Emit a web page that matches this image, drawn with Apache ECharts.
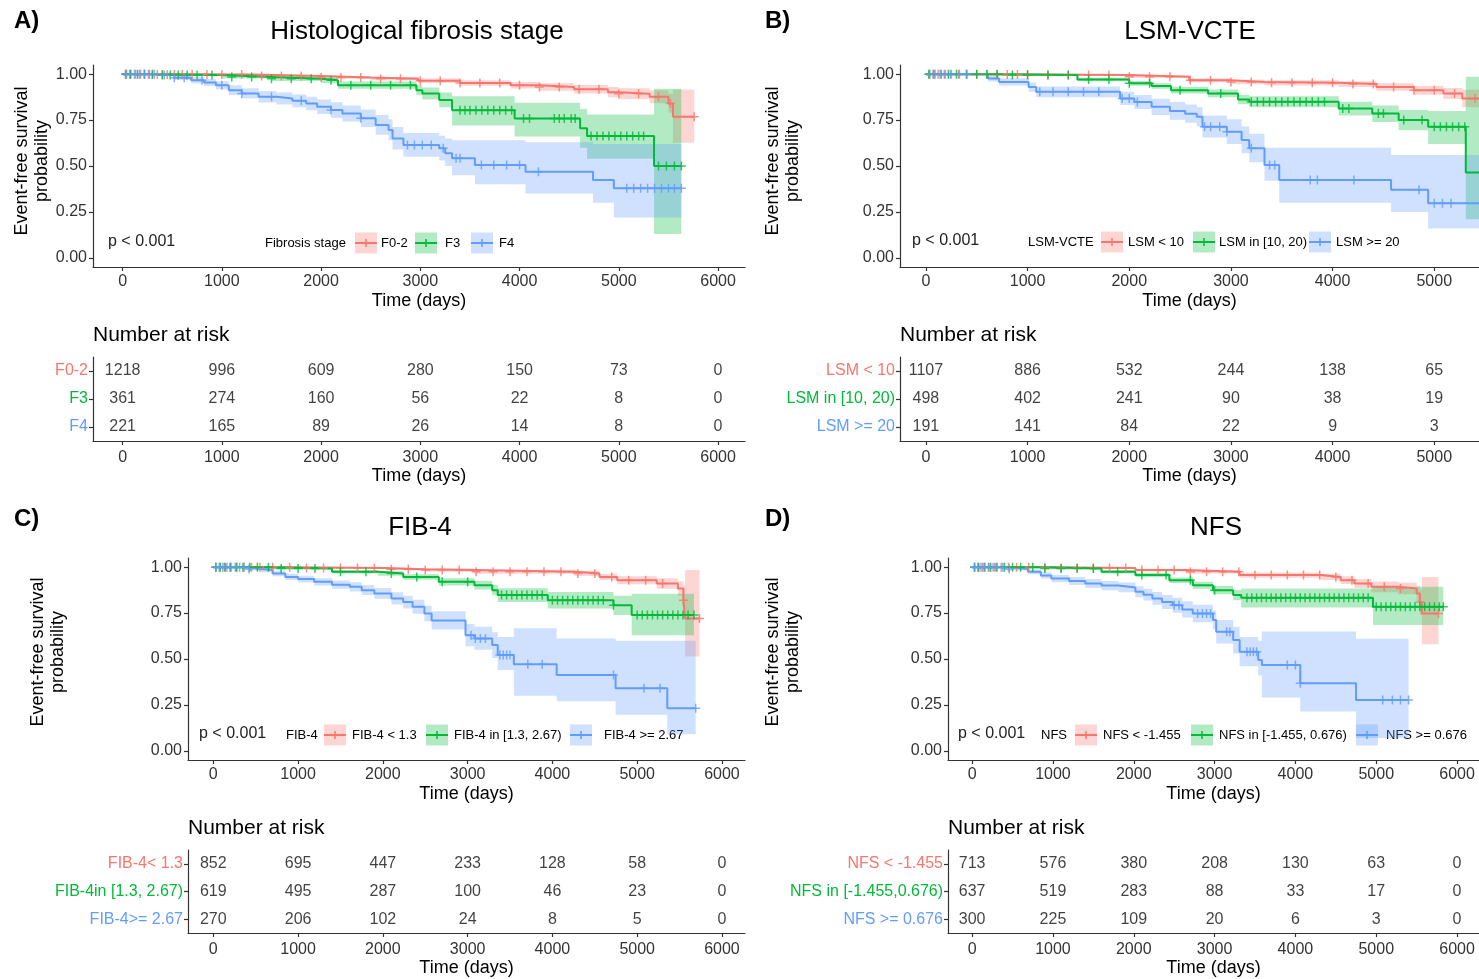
<!DOCTYPE html>
<html>
<head>
<meta charset="utf-8">
<script src="https://cdn.jsdelivr.net/npm/echarts@6/dist/echarts.min.js"></script>
<style>
  html, body { margin: 0; padding: 0; background: #fff; }
  #chart { width: 1479px; height: 979px; }
</style>
</head>
<body>
<div id="chart"></div>
<script>
// ggplot default hues
const COLORS = ['#F8766D', '#00BA38', '#619CFF'];
const FILLS = ['rgba(248,118,109,0.3)', 'rgba(0,186,56,0.3)', 'rgba(97,156,255,0.3)'];
const FONT = '"Liberation Sans", Arial, Helvetica, sans-serif';

const timeTicks = [0, 1000, 2000, 3000, 4000, 5000, 6000];
const timeTicksB = [0, 1000, 2000, 3000, 4000, 5000];
const survTicks = [0, 0.25, 0.5, 0.75, 1];

// ---- A) histological fibrosis stage : rows are [time, surv, lower, upper]
const stageA = ['F0-2', 'F3', 'F4'];
const kmA_F02 = [[0,1,1,1],[300,0.998,0.995,1],[1300,0.99,0.985,0.996],[2000,0.982,0.975,0.99],[2500,0.975,0.965,0.984],[2980,0.964,0.952,0.976],[3400,0.952,0.937,0.967],[3910,0.94,0.922,0.958],[4200,0.93,0.91,0.95],[4550,0.918,0.895,0.941],[4890,0.902,0.875,0.93],[5000,0.893,0.863,0.923],[5310,0.877,0.842,0.912],[5500,0.84,0.79,0.893],[5545,0.768,0.627,0.917],[5760,0.768,0.627,0.917]];
const kmA_F3 = [[0,1,1,1],[370,0.995,0.99,1],[1000,0.985,0.977,0.993],[1500,0.975,0.963,0.986],[2000,0.967,0.952,0.981],[2170,0.94,0.92,0.96],[2960,0.913,0.885,0.94],[3020,0.895,0.862,0.928],[3190,0.86,0.82,0.9],[3320,0.804,0.72,0.88],[3950,0.759,0.66,0.845],[4610,0.705,0.6,0.81],[4680,0.663,0.54,0.78],[5355,0.5,0.13,0.92],[5630,0.5,0.13,0.92]];
const kmA_F4 = [[0,1,1,1],[350,0.995,0.99,1],[520,0.98,0.968,0.992],[690,0.967,0.95,0.984],[820,0.955,0.936,0.974],[940,0.94,0.918,0.962],[1070,0.913,0.887,0.94],[1200,0.895,0.867,0.923],[1370,0.877,0.846,0.908],[1550,0.868,0.835,0.9],[1710,0.855,0.82,0.89],[1850,0.84,0.803,0.877],[1960,0.822,0.783,0.862],[2100,0.805,0.763,0.847],[2215,0.786,0.742,0.83],[2400,0.76,0.712,0.808],[2550,0.723,0.67,0.778],[2680,0.696,0.64,0.754],[2720,0.65,0.59,0.712],[2830,0.614,0.55,0.68],[3190,0.596,0.53,0.665],[3250,0.57,0.5,0.65],[3320,0.542,0.45,0.64],[3550,0.505,0.4,0.64],[4060,0.469,0.35,0.63],[4740,0.424,0.3,0.62],[4950,0.379,0.22,0.62],[5630,0.379,0.22,0.62]];
const censA_F02 = [40,80,130,180,220,260,300,350,400,450,520,600,700,850,1000,1200,1400,1600,1800,2000,2200,2400,2600,2800,3000,3200,3400,3600,3800,4000,4200,4400,4600,4800,5000,5200,5400,5520,5760];
const censA_F3 = [30,80,150,220,300,400,480,560,650,750,900,1100,1300,1500,1700,1900,2100,2300,2500,2700,2900,3400,3450,3500,3560,3620,3680,3740,3800,3860,3920,4040,4100,4350,4400,4450,4520,4560,4720,4780,4840,4900,4960,5020,5080,5140,5200,5250,5400,5480,5560,5630];
const censA_F4 = [30,70,120,170,220,270,320,420,520,620,800,1000,1200,1500,1800,2100,2400,2870,2940,3020,3110,3230,3360,3400,3615,3740,3870,4000,4190,5080,5150,5220,5290,5360,5430,5500,5560,5630];
const riskA_F02 = [1218, 996, 609, 280, 150, 73, 0];
const riskA_F3 = [361, 274, 160, 56, 22, 8, 0];
const riskA_F4 = [221, 165, 89, 26, 14, 8, 0];

// ---- B) LSM-VCTE
const stageB = ['LSM < 10', 'LSM in [10, 20)', 'LSM >= 20'];
const kmB_lo = [[0,1,1,1],[500,0.998,0.995,1],[1120,0.995,0.99,0.999],[2000,0.986,0.979,0.993],[2590,0.967,0.956,0.978],[3000,0.958,0.945,0.97],[3330,0.953,0.939,0.967],[4060,0.946,0.93,0.962],[4430,0.93,0.91,0.95],[4800,0.913,0.888,0.937],[5090,0.895,0.865,0.925],[5275,0.868,0.82,0.915],[5440,0.868,0.82,0.915]];
const kmB_mid = [[0,1,1,1],[750,0.995,0.99,1],[1490,0.971,0.961,0.981],[2000,0.95,0.937,0.963],[2220,0.935,0.92,0.95],[2410,0.913,0.895,0.931],[2775,0.895,0.874,0.916],[3070,0.862,0.836,0.888],[3180,0.85,0.82,0.88],[4060,0.813,0.775,0.85],[4390,0.786,0.74,0.83],[4650,0.75,0.695,0.805],[4940,0.714,0.62,0.8],[5310,0.464,0.21,0.986],[5440,0.464,0.21,0.986]];
const kmB_hi = [[0,1,1,1],[610,0.976,0.96,0.992],[720,0.958,0.938,0.978],[1010,0.93,0.905,0.955],[1085,0.904,0.875,0.933],[1910,0.868,0.832,0.904],[2050,0.848,0.81,0.886],[2220,0.822,0.778,0.866],[2400,0.8,0.752,0.848],[2550,0.785,0.735,0.835],[2665,0.768,0.715,0.82],[2720,0.714,0.655,0.775],[2960,0.687,0.62,0.755],[3105,0.641,0.57,0.715],[3180,0.596,0.52,0.675],[3330,0.505,0.42,0.6],[3475,0.424,0.3,0.6],[4575,0.37,0.25,0.56],[4940,0.297,0.16,0.56],[5440,0.297,0.16,0.56]];
const censB_lo = [30,70,120,180,250,320,400,500,600,700,800,900,1000,1200,1400,1600,1800,2000,2200,2400,2600,2800,3000,3200,3400,3600,3800,4000,4200,4400,4600,4800,5000,5200,5400];
const censB_mid = [30,80,150,220,300,400,500,600,700,850,1000,1200,1400,1600,1800,2000,2200,2500,2900,3200,3260,3320,3380,3440,3500,3560,3620,3680,3740,3800,3860,3920,4100,4160,4450,4500,4700,4880,5000,5060,5120,5180,5240,5300];
const censB_hi = [40,90,140,190,240,330,400,1120,1250,1400,1550,1700,1930,2000,2080,2740,2800,2890,2960,3200,3380,3430,3780,3850,4210,4850,5000,5080,5165];
const riskB_lo = [1107, 886, 532, 244, 138, 65];
const riskB_mid = [498, 402, 241, 90, 38, 19];
const riskB_hi = [191, 141, 84, 22, 9, 3];

// ---- C) FIB-4
const stageC = ['FIB-4< 1.3', 'FIB-4in [1.3, 2.67)', 'FIB-4>= 2.67'];
const legendC = ['FIB-4 < 1.3', 'FIB-4 in [1.3, 2.67)', 'FIB-4 >= 2.67'];
const kmC_lo = [[0,1,1,1],[977,0.996,0.992,1],[2030,0.989,0.982,0.996],[2490,0.984,0.975,0.993],[3080,0.975,0.964,0.986],[4260,0.966,0.952,0.98],[4555,0.947,0.93,0.964],[4765,0.929,0.907,0.951],[5230,0.911,0.882,0.94],[5480,0.884,0.845,0.923],[5545,0.82,0.74,0.9],[5565,0.721,0.513,0.984],[5735,0.721,0.513,0.984]];
const kmC_mid = [[0,1,1,1],[680,0.993,0.987,0.999],[1400,0.975,0.965,0.985],[1945,0.966,0.954,0.978],[2240,0.947,0.932,0.962],[2660,0.92,0.9,0.94],[3080,0.902,0.878,0.926],[3290,0.875,0.847,0.903],[3355,0.848,0.81,0.885],[3945,0.82,0.775,0.865],[4720,0.793,0.74,0.845],[4935,0.739,0.63,0.855],[5670,0.739,0.63,0.855]];
const kmC_hi = [[0,1,1,1],[400,0.99,0.982,0.998],[555,0.984,0.972,0.996],[700,0.965,0.95,0.98],[850,0.947,0.93,0.964],[1000,0.935,0.916,0.954],[1190,0.92,0.9,0.94],[1400,0.905,0.882,0.928],[1610,0.893,0.868,0.918],[1750,0.875,0.848,0.902],[1900,0.857,0.828,0.886],[2100,0.83,0.797,0.863],[2240,0.81,0.775,0.845],[2350,0.785,0.747,0.823],[2490,0.748,0.705,0.79],[2575,0.71,0.66,0.76],[2975,0.63,0.57,0.69],[3080,0.612,0.55,0.675],[3290,0.576,0.505,0.645],[3355,0.522,0.44,0.62],[3545,0.471,0.3,0.667],[4050,0.413,0.27,0.612],[4745,0.341,0.196,0.6],[5355,0.232,0.09,0.6],[5690,0.232,0.09,0.6]];
const censC_lo = [30,80,130,200,280,360,450,550,700,900,1100,1300,1500,1700,1900,2100,2300,2500,2700,2900,3100,3300,3500,3700,3900,4100,4300,4500,4700,4900,5100,5300,5545,5735];
const censC_mid = [30,80,140,200,270,350,430,520,650,800,1000,1200,1500,1800,2100,2400,2700,3000,3400,3460,3520,3580,3640,3700,3760,3820,3880,4000,4060,4120,4180,4240,4300,4360,4420,4480,4540,4600,4720,5000,5060,5120,5180,5240,5300,5360,5420,5480,5540,5600,5670];
const censC_hi = [30,70,110,160,210,260,310,360,420,3040,3090,3150,3210,3380,3420,3460,3500,3710,3880,4720,5080,5270,5690];
const riskC_lo = [852, 695, 447, 233, 128, 58, 0];
const riskC_mid = [619, 495, 287, 100, 46, 23, 0];
const riskC_hi = [270, 206, 102, 24, 8, 5, 0];

// ---- D) NFS
const stageD = ['NFS < -1.455', 'NFS in [-1.455,0.676)', 'NFS >= 0.676'];
const legendD = ['NFS < -1.455', 'NFS in [-1.455, 0.676)', 'NFS >= 0.676'];
const kmD_lo = [[0,1,1,1],[980,0.996,0.992,1],[2020,0.984,0.976,0.992],[2645,0.975,0.965,0.985],[3310,0.957,0.943,0.971],[4310,0.947,0.93,0.964],[4560,0.929,0.908,0.95],[4730,0.911,0.886,0.936],[4940,0.893,0.864,0.922],[5270,0.884,0.852,0.916],[5500,0.857,0.815,0.899],[5540,0.81,0.74,0.88],[5565,0.748,0.58,0.947],[5770,0.748,0.58,0.947]];
const kmD_mid = [[0,1,1,1],[900,0.993,0.988,0.998],[1600,0.975,0.966,0.984],[2020,0.957,0.945,0.969],[2440,0.929,0.914,0.944],[2730,0.902,0.883,0.921],[2980,0.875,0.852,0.898],[3230,0.848,0.82,0.876],[3330,0.833,0.78,0.884],[4960,0.784,0.685,0.893],[5830,0.784,0.685,0.893]];
const kmD_hi = [[0,1,1,1],[450,0.99,0.982,0.998],[690,0.975,0.962,0.988],[850,0.955,0.938,0.972],[980,0.938,0.918,0.958],[1200,0.925,0.903,0.947],[1400,0.911,0.887,0.935],[1600,0.9,0.875,0.925],[1810,0.89,0.863,0.917],[2020,0.866,0.836,0.896],[2120,0.85,0.818,0.882],[2230,0.83,0.795,0.865],[2350,0.81,0.772,0.848],[2480,0.793,0.752,0.834],[2600,0.77,0.726,0.814],[2730,0.748,0.7,0.796],[2980,0.712,0.66,0.764],[3020,0.649,0.585,0.713],[3230,0.603,0.53,0.676],[3310,0.54,0.46,0.62],[3540,0.495,0.41,0.6],[3585,0.467,0.29,0.65],[4060,0.368,0.214,0.65],[4750,0.277,0.07,0.61],[5400,0.277,0.07,0.61]];
const censD_lo = [30,80,130,200,280,360,450,550,700,900,1100,1300,1500,1700,1900,2100,2300,2500,2700,2900,3100,3300,3500,3700,3900,4100,4300,4500,4700,4900,5100,5300,5540,5770];
const censD_mid = [30,80,150,230,300,400,500,600,750,900,1100,1300,1500,1800,2100,2400,2700,3000,3400,3460,3520,3580,3640,3700,3760,3820,3880,3940,4000,4060,4120,4180,4240,4300,4360,4420,4480,4540,4600,4660,4720,4780,4840,4900,5000,5060,5120,5180,5240,5300,5360,5420,5480,5540,5600,5660,5720,5780,5830];
const censD_hi = [30,70,110,160,210,260,310,380,460,2500,2560,2790,2850,2900,2950,3150,3190,3400,3440,3480,3520,3900,4000,4060,5080,5200,5300,5400];
const riskD_lo = [713, 576, 380, 208, 130, 63, 0];
const riskD_mid = [637, 519, 283, 88, 33, 17, 0];
const riskD_hi = [300, 225, 109, 20, 6, 3, 0];

// panel layout (pixels) + which arrays go where
let panels = [
    { tag: 'A)', tagX: 14, tagY: 21, title: 'Histological fibrosis stage', titleX: 417, titleY: 32,
      plotBox: { left: 93, top: 65, width: 652 }, riskBox: { left: 93, top: 357, width: 652, height: 84 },
      xMin: -298.6, xMax: 6271.6, ticks: timeTicks, yTitle: [32, 161],
      rows: stageA, km: [kmA_F02, kmA_F3, kmA_F4], cens: [censA_F02, censA_F3, censA_F4], atRisk: [riskA_F02, riskA_F3, riskA_F4],
      pX: 108, legY: 243, legTitle: [265, 'Fibrosis stage'], legNames: stageA, keyX: [355, 415, 471], textX: [381, 445, 499] },
    { tag: 'B)', tagX: 765, tagY: 21, title: 'LSM-VCTE', titleX: 1190, titleY: 32,
      plotBox: { left: 900, top: 65, width: 580 }, riskBox: { left: 900, top: 357, width: 580, height: 84 },
      xMin: -255, xMax: 5440, ticks: timeTicksB, yTitle: [783, 161],
      rows: stageB, km: [kmB_lo, kmB_mid, kmB_hi], cens: [censB_lo, censB_mid, censB_hi], atRisk: [riskB_lo, riskB_mid, riskB_hi],
      pX: 912, legY: 242, legTitle: [1028, 'LSM-VCTE'], legNames: stageB, keyX: [1101, 1193, 1309], textX: [1128, 1219, 1336] },
    { tag: 'C)', tagX: 14, tagY: 519, title: 'FIB-4', titleX: 420, titleY: 528,
      plotBox: { left: 188, top: 558, width: 557 }, riskBox: { left: 188, top: 850, width: 557, height: 83 },
      xMin: -298.6, xMax: 6271.6, ticks: timeTicks, yTitle: [48, 652],
      rows: stageC, km: [kmC_lo, kmC_mid, kmC_hi], cens: [censC_lo, censC_mid, censC_hi], atRisk: [riskC_lo, riskC_mid, riskC_hi],
      pX: 199, legY: 735, legTitle: [286, 'FIB-4'], legNames: legendC, keyX: [324, 426, 570], textX: [352, 454, 604] },
    { tag: 'D)', tagX: 765, tagY: 519, title: 'NFS', titleX: 1216, titleY: 528,
      plotBox: { left: 948, top: 558, width: 531 }, riskBox: { left: 948, top: 850, width: 531, height: 83 },
      xMin: -298.6, xMax: 6271.6, ticks: timeTicks, yTitle: [783, 652],
      rows: stageD, km: [kmD_lo, kmD_mid, kmD_hi], cens: [censD_lo, censD_mid, censD_hi], atRisk: [riskD_lo, riskD_mid, riskD_hi],
      pX: 958, legY: 735, legTitle: [1041, 'NFS'], legNames: legendD, keyX: [1075, 1191, 1356], textX: [1103, 1219, 1386] }
];

const PLUS = 'path://M-1,-6H1V-1H6V1H1V6H-1V1H-6V-1H-1Z';

// survival at time t
function survAt(rows, t) {
    let s = rows[0][1];
    rows.forEach(r => { if (r[0] <= t) s = r[1]; });
    return s;
}

// confidence band as one stepped polygon, placed with the axis scales
function bandRender(rows, fill) {
    return function (params, api) {
        if (params.dataIndex !== 0) return null;
        let upper = [], lower = [];
        for (let i = 0; i < rows.length; i++) {
            const t0 = rows[i][0];
            const t1 = i < rows.length - 1 ? rows[i + 1][0] : rows[i][0];
            upper.push(api.coord([t0, rows[i][3]]), api.coord([t1, rows[i][3]]));
            lower.push(api.coord([t0, rows[i][2]]), api.coord([t1, rows[i][2]]));
        }
        const pts = upper.concat(lower.reverse());
        return { type: 'polygon', shape: { points: pts }, style: { fill: fill, stroke: null } };
    };
}

const axisLine = { show: true, onZero: false, lineStyle: { color: '#333', width: 1.2 } };
const axisTick = { show: true, length: 4, lineStyle: { color: '#333', width: 1.2 } };

let grids = [], xAxes = [], yAxes = [], series = [], graphics = [];

function txt(x, y, text, size, opt) {
    opt = opt || {};
    return {
        type: 'text', x: x, y: y, rotation: opt.rotation || 0, silent: true,
        style: {
            text: text, fontSize: size, fontFamily: FONT, fill: opt.fill || '#000',
            fontWeight: opt.bold ? 'bold' : 'normal',
            textAlign: opt.align || 'left', align: opt.align || 'left',
            textVerticalAlign: 'middle', verticalAlign: 'middle', lineHeight: opt.lineHeight
        }
    };
}

panels.forEach((p, pi) => {
    const gp = pi * 2, gr = pi * 2 + 1;
    grids.push({ left: p.plotBox.left, top: p.plotBox.top, width: p.plotBox.width, height: 202 });
    grids.push({ left: p.riskBox.left, top: p.riskBox.top, width: p.riskBox.width, height: p.riskBox.height });

    // survival plot axes
    xAxes.push({
        type: 'value', gridIndex: gp, min: p.xMin, max: p.xMax,
        axisLine: axisLine, axisTick: Object.assign({ customValues: p.ticks }, axisTick), splitLine: { show: false },
        axisLabel: { customValues: p.ticks, fontSize: 16, color: '#333', fontFamily: FONT, margin: 7, formatter: v => String(v) },
        name: 'Time (days)', nameLocation: 'middle', nameGap: 25,
        nameTextStyle: { fontSize: 18, color: '#000', fontFamily: FONT }
    });
    yAxes.push({
        type: 'value', gridIndex: gp, min: -0.05, max: 1.05,
        axisLine: axisLine, axisTick: Object.assign({ customValues: survTicks }, axisTick), splitLine: { show: false },
        axisLabel: { customValues: survTicks, fontSize: 16, color: '#333', fontFamily: FONT, margin: 6,
                     formatter: v => v.toFixed(2) }
    });

    // risk table axes
    xAxes.push({
        type: 'value', gridIndex: gr, min: p.xMin, max: p.xMax,
        axisLine: axisLine, axisTick: Object.assign({ customValues: p.ticks }, axisTick), splitLine: { show: false },
        axisLabel: { customValues: p.ticks, fontSize: 16, color: '#333', fontFamily: FONT, margin: 9, formatter: v => String(v) },
        name: 'Time (days)', nameLocation: 'middle', nameGap: 26,
        nameTextStyle: { fontSize: 18, color: '#000', fontFamily: FONT }
    });
    const rich = {};
    COLORS.forEach((c, i) => { rich['c' + i] = { color: c, fontSize: 16, fontFamily: FONT }; });
    yAxes.push({
        type: 'category', gridIndex: gr, data: p.rows, inverse: true,
        axisLine: axisLine, axisTick: Object.assign({ alignWithLabel: true }, axisTick),
        axisLabel: { margin: 5, formatter: (v, i) => '{c' + i + '|' + v + '}', rich: rich }
    });

    // bands, curves, censor marks
    p.km.forEach((rows, k) => {
        series.push({
            type: 'custom', xAxisIndex: gp, yAxisIndex: gp, clip: true, silent: true, z: 1,
            data: rows.map(r => [r[0], r[2], r[3]]), encode: { x: 0, y: [1, 2] },
            renderItem: bandRender(rows, FILLS[k])
        });
    });
    p.km.forEach((rows, k) => {
        series.push({
            type: 'line', xAxisIndex: gp, yAxisIndex: gp, step: 'end', symbol: 'none',
            data: rows.map(r => [r[0], r[1]]), lineStyle: { color: COLORS[k], width: 2 }, z: 3
        });
        series.push({
            type: 'scatter', xAxisIndex: gp, yAxisIndex: gp, symbol: PLUS, symbolSize: 9,
            data: p.cens[k].map(t => [t, survAt(rows, t)]), itemStyle: { color: COLORS[k] }, z: 4
        });
    });

    // number at risk
    let riskData = [];
    p.atRisk.forEach((vals, k) => vals.forEach((n, j) => riskData.push([p.ticks[j], k, n])));
    series.push({
        type: 'scatter', xAxisIndex: gr, yAxisIndex: gr, symbolSize: 1, itemStyle: { color: 'transparent' },
        data: riskData,
        label: { show: true, position: 'inside', formatter: d => d.value[2], fontSize: 16, color: '#111', fontFamily: FONT }
    });

    // texts
    graphics.push(txt(p.tagX, p.tagY, p.tag, 24, { bold: true }));
    graphics.push(txt(p.titleX, p.titleY, p.title, 26, { align: 'center' }));
    graphics.push(txt(p.yTitle[0], p.yTitle[1], 'Event-free survival\nprobability', 18,
                      { align: 'center', rotation: Math.PI / 2, fill: '#000', lineHeight: 20 }));
    graphics.push(txt(p.riskBox.left, p.riskBox.top - 22, 'Number at risk', 21));
    graphics.push(txt(p.pX, p.legY - 1, 'p < 0.001', 16, { fill: '#222' }));
    graphics.push(txt(p.legTitle[0], p.legY, p.legTitle[1], 13));
    p.keyX.forEach((x, k) => {
        graphics.push({ type: 'rect', silent: true, shape: { x: x, y: p.legY - 10.5, width: 22, height: 21 }, style: { fill: FILLS[k] } });
        graphics.push({ type: 'line', silent: true, shape: { x1: x, y1: p.legY, x2: x + 22, y2: p.legY }, style: { stroke: COLORS[k], lineWidth: 2 } });
        graphics.push({ type: 'line', silent: true, shape: { x1: x + 11, y1: p.legY - 4, x2: x + 11, y2: p.legY + 4 }, style: { stroke: COLORS[k], lineWidth: 1.5 } });
        graphics.push(txt(p.textX[k], p.legY, p.legNames[k], 13));
    });
});

let chart = echarts.init(document.getElementById('chart'));
chart.setOption({
    backgroundColor: '#fff',
    animation: false,
    textStyle: { fontFamily: FONT },
    grid: grids,
    xAxis: xAxes,
    yAxis: yAxes,
    series: series,
    graphic: { elements: graphics }
});
</script>
</body>
</html>
